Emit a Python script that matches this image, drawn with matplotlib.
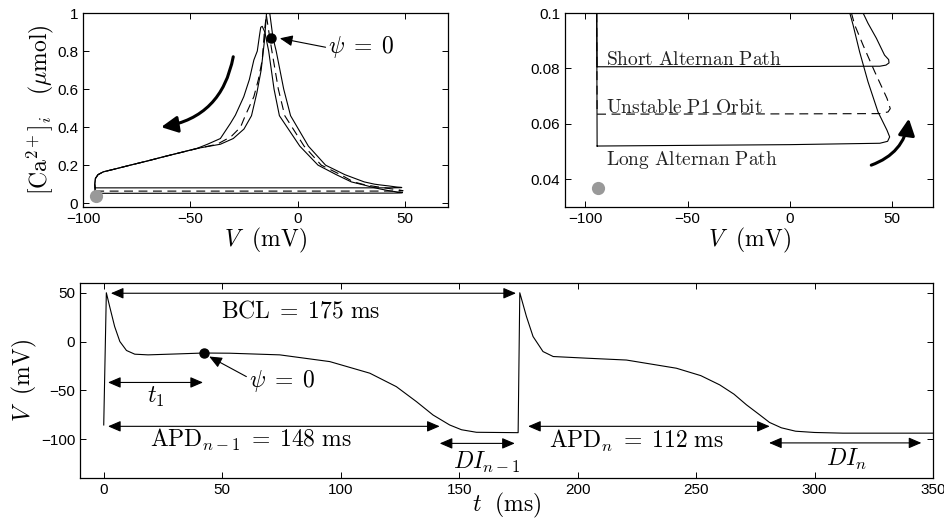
import matplotlib
matplotlib.use('Agg')
import matplotlib.pyplot as plt

plt.rcParams['mathtext.fontset'] = 'cm'
plt.rcParams['font.family'] = ['Liberation Sans', 'DejaVu Sans']
plt.rcParams['font.size'] = 11
plt.rcParams['axes.linewidth'] = 0.9
plt.rcParams['xtick.direction'] = 'in'
plt.rcParams['ytick.direction'] = 'in'
plt.rcParams['xtick.top'] = True
plt.rcParams['ytick.right'] = True
plt.rcParams['xtick.major.size'] = 4
plt.rcParams['ytick.major.size'] = 4
plt.rcParams['xtick.major.width'] = 0.7
plt.rcParams['ytick.major.width'] = 0.7

# --- phase-plane loops (V in mV, [Ca]i in umol) ---
# common diastolic tail shared by the three loops
tail_v = [-55, -62.5, -70, -78, -85, -90.5, -93, -94.2, -94.5]
tail_ca = [0.265, 0.244, 0.222, 0.2, 0.18, 0.165, 0.15, 0.13, 0.1]

short_v = [-94.3, 0, 44, 47, 48.5, 48.3, 46.3, 42.3, 38.2, 35.8, 31, 22, 13, 5,
           -3.3, -6.5, -10, -11.5, -13.0, -13.8, -14.5, -15.5, -17, -19, -21.5,
           -25, -30, -36, -46.9] + tail_v + [-94.3]
short_ca = [0.0806, 0.0807, 0.0808, 0.0812, 0.082, 0.0832, 0.0848, 0.0909, 0.0963,
            0.1, 0.112, 0.15, 0.2, 0.3, 0.46, 0.6, 0.8, 0.87, 1.0, 1.05, 1.0, 0.85,
            0.7, 0.58, 0.46, 0.39, 0.34, 0.31, 0.288] + tail_ca + [0.0806]

p1_v = [-94.3, 0, 44, 48, 49.1, 47.5, 41.5, 35.8, 31.7, 30.1, 26, 20, 11, 3,
        -6.0, -9, -12, -13.4, -14.6, -15.5, -16.5, -18.3, -20.4, -24.3, -26.6,
        -31, -37.5, -46.9] + tail_v + [-94.3]
p1_ca = [0.0635, 0.0636, 0.0637, 0.0643, 0.0655, 0.0692, 0.0788, 0.0884, 0.0957,
         0.1, 0.112, 0.15, 0.2, 0.3, 0.46, 0.6, 0.8, 0.9, 0.99, 0.9, 0.753, 0.65,
         0.56, 0.463, 0.40, 0.35, 0.31, 0.287] + tail_ca + [0.0635]

long_v = [-94.3, 0, 44, 47.8, 48.8, 47.5, 43.1, 38.2, 34.1, 30.9, 29.3, 25, 18,
          9.5, 1, -8.5, -11, -13.5, -15.3, -16.5, -17.2, -17.8, -18.8, -20.4,
          -22.5, -25.1, -29, -31.3, -36, -42, -46.9] + tail_v + [-94.3]
long_ca = [0.052, 0.0525, 0.053, 0.0537, 0.0553, 0.0577, 0.0643, 0.0752, 0.086,
           0.0957, 0.1, 0.112, 0.15, 0.2, 0.3, 0.46, 0.6, 0.8, 0.9, 0.93, 0.925,
           0.88, 0.8, 0.753, 0.65, 0.56, 0.463, 0.42, 0.34, 0.31, 0.288] + tail_ca + [0.052]

rest_pt = (-94, 0.037)
psi_pt_ca = (-12.3, 0.867)

# --- action potential trace ---
t_ap = [0, 1.1, 2.5, 4.6, 6.8, 9.6, 13.1, 18.7, 31.4, 42.2, 53.2, 74.3, 95.4,
        112.3, 123.5, 132, 139, 146, 151, 157.3, 174.9, 175.6, 178.4, 181.2,
        185.4, 189.7, 203.8, 220.6, 241.7, 252, 260, 266, 271.3, 276.9, 281,
        286, 292, 300, 312, 350]
v_ap = [-85.6, 50, 35.9, 15.4, 0, -9.2, -13, -13.7, -12.7, -11.8, -12, -13.7,
        -20.6, -32.5, -46.3, -61.7, -75.4, -85.6, -90.5, -93.1, -93.5, 50, 25.7,
        5.1, -10.3, -15.4, -17.1, -19, -27.4, -35, -44.5, -54, -65, -75.3, -83,
        -88.5, -92, -93.3, -94, -94]
psi_pt_t = (42.2, -11.8)

fig = plt.figure(figsize=(9.45, 5.29), dpi=100)
ax1 = fig.add_axes([0.0878, 0.6087, 0.3862, 0.3667])
ax2 = fig.add_axes([0.5979, 0.6087, 0.3894, 0.3667])
ax3 = fig.add_axes([0.0847, 0.0964, 0.9026, 0.3686])

lw = 0.8
for ax in (ax1, ax2):
    ax.plot(short_v, short_ca, color='k', lw=lw)
    ax.plot(long_v, long_ca, color='k', lw=lw)
    ax.plot(p1_v, p1_ca, color='k', lw=lw, ls='--', dashes=(8, 5))
    ax.plot(*rest_pt, 'o', color='#999999', ms=9.5, mec='none', clip_on=False, zorder=5)

double = '<|-|>,head_length=0.7,head_width=0.3'
single = '-|>,head_length=0.7,head_width=0.3'
fs = 17
psi_txt = r'$\psi\;=\;0$'

# top-left panel
ax1.plot(*psi_pt_ca, 'o', color='k', ms=6.5, zorder=6)
ax1.annotate('', xy=(-8.3, 0.867), xytext=(13, 0.82),
             arrowprops=dict(arrowstyle=single, lw=0.8, color='k', shrinkA=0, shrinkB=0))
ax1.text(29.4, 0.823, psi_txt, fontsize=fs, ha='center', va='center')
ax1.annotate('', xy=(-63.6, 0.40), xytext=(-30, 0.77),
             arrowprops=dict(arrowstyle='-|>,head_length=0.9,head_width=0.45', lw=2.2,
                             color='k', shrinkA=0, shrinkB=0,
                             connectionstyle='arc3,rad=-0.35'))
ax1.set_xlim(-100, 70)
ax1.set_ylim(-0.02, 1)
ax1.set_xticks([-100, -50, 0, 50])
ax1.set_yticks([0, 0.2, 0.4, 0.6, 0.8, 1])
ax1.set_yticklabels(['0', '0.2', '0.4', '0.6', '0.8', '1'])
ax1.set_xlabel(r'$V\ \ (\mathrm{mV})$', fontsize=fs, labelpad=0)
ax1.set_ylabel(r'$[\mathrm{Ca}^{2+}]_i\quad(\mu\mathrm{mol})$', fontsize=fs, labelpad=1)

# top-right panel
txt_c = '#222222'
for y, s in [(0.0814, r'$\mathrm{Short\ Alternan\ Path}$'),
             (0.0638, r'$\mathrm{Unstable\ P1\ Orbit}$'),
             (0.0452, r'$\mathrm{Long\ Alternan\ Path}$')]:
    ax2.text(-89.8, y, s, fontsize=14, color=txt_c, va='baseline')
ax2.annotate('', xy=(58.2, 0.0619), xytext=(39.8, 0.0451),
             arrowprops=dict(arrowstyle='-|>,head_length=0.9,head_width=0.45', lw=2.2,
                             color='k', shrinkA=0, shrinkB=0,
                             connectionstyle='arc3,rad=0.3'))
ax2.set_xlim(-110, 70)
ax2.set_ylim(0.03, 0.1)
ax2.set_xticks([-100, -50, 0, 50])
ax2.set_yticks([0.04, 0.06, 0.08, 0.1])
ax2.set_yticklabels(['0.04', '0.06', '0.08', '0.1'])
ax2.set_xlabel(r'$V\ \ (\mathrm{mV})$', fontsize=fs, labelpad=0)

# bottom panel
ax3.plot(t_ap, v_ap, color='k', lw=lw)
ax3.plot(*psi_pt_t, 'o', color='k', ms=6.5, zorder=6)
arrows = [
    (3, 174, 49.5),      # BCL
    (1.8, 41.9, -42),    # t1
    (1.8, 141.8, -87),   # APD n-1
    (141.8, 173.5, -104.5),  # DI n-1
    (179.1, 281.1, -87),  # APD n
    (280.8, 345.1, -104),  # DI n
]
for a, b, y in arrows:
    ax3.annotate('', xy=(b, y), xytext=(a, y),
                 arrowprops=dict(arrowstyle=double, lw=0.8, color='k', shrinkA=0, shrinkB=0))
ax3.annotate('', xy=(44.5, -15.4), xytext=(60.2, -36),
             arrowprops=dict(arrowstyle=single, lw=0.8, color='k', shrinkA=0, shrinkB=0))
ax3.text(83, 31, r'$\mathrm{BCL}\;=\;175\ \mathrm{ms}$', fontsize=fs, ha='center', va='center')
ax3.text(22, -56.5, r'$t_1$', fontsize=fs, ha='center', va='center')
ax3.text(75.3, -41, psi_txt, fontsize=fs, ha='center', va='center')
ax3.text(62.3, -101, r'$\mathrm{APD}_{n-1}\;=\;148\ \mathrm{ms}$', fontsize=fs,
         ha='center', va='center')
ax3.text(161.5, -124, r'$DI_{n-1}$', fontsize=fs, ha='center', va='center')
ax3.text(224.8, -102.5, r'$\mathrm{APD}_{n}\;=\;112\ \mathrm{ms}$', fontsize=fs,
         ha='center', va='center')
ax3.text(313.5, -121, r'$DI_{n}$', fontsize=fs, ha='center', va='center')
ax3.set_xlim(-10, 350)
ax3.set_ylim(-140, 60)
ax3.set_xticks([0, 50, 100, 150, 200, 250, 300, 350])
ax3.set_yticks([-100, -50, 0, 50])
ax3.set_xlabel(r'$t\ \ (\mathrm{ms})$', fontsize=fs, labelpad=-4)
ax3.set_ylabel(r'$V\ \ (\mathrm{mV})$', fontsize=fs, labelpad=1)

plt.savefig('out.png', dpi=100)
